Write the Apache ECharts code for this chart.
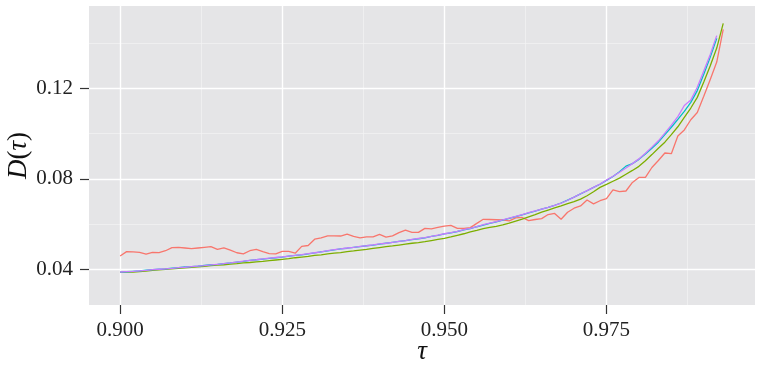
<!DOCTYPE html>
<html><head><meta charset="utf-8">
<script src="https://cdn.jsdelivr.net/npm/echarts@6/dist/echarts.min.js"></script>
<style>html,body{margin:0;padding:0;background:#fff}#c{width:757px;height:365px}</style>
</head><body><div id="c"></div>
<script>
const tau = [0.900,0.901,0.902,0.903,0.904,0.905,0.906,0.907,0.908,0.909,
0.910,0.911,0.912,0.913,0.914,0.915,0.916,0.917,0.918,0.919,
0.920,0.921,0.922,0.923,0.924,0.925,0.926,0.927,0.928,0.929,
0.930,0.931,0.932,0.933,0.934,0.935,0.936,0.937,0.938,0.939,
0.940,0.941,0.942,0.943,0.944,0.945,0.946,0.947,0.948,0.949,
0.950,0.951,0.952,0.953,0.954,0.955,0.956,0.957,0.958,0.959,
0.960,0.961,0.962,0.963,0.964,0.965,0.966,0.967,0.968,0.969,
0.970,0.971,0.972,0.973,0.974,0.975,0.976,0.977,0.978,0.979,
0.980,0.981,0.982,0.983,0.984,0.985,0.986,0.987,0.988,0.989,
0.990,0.991,0.992,0.993];

const seriesRed = [0.0459,0.0478,0.0477,0.0475,0.0467,0.0475,0.0474,0.0482,0.0496,0.0497,
0.0494,0.0491,0.0494,0.0497,0.0500,0.0488,0.0495,0.0485,0.0473,0.0468,
0.0482,0.0488,0.0478,0.0469,0.0468,0.0479,0.0479,0.0471,0.0501,0.0505,
0.0533,0.0539,0.0548,0.0548,0.0547,0.0555,0.0545,0.0539,0.0543,0.0543,
0.0554,0.0542,0.0548,0.0562,0.0573,0.0563,0.0563,0.0581,0.0579,0.0585,
0.0591,0.0594,0.0581,0.0581,0.0584,0.0603,0.0621,0.0620,0.0619,0.0618,
0.0614,0.0627,0.0629,0.0615,0.0620,0.0624,0.0642,0.0647,0.0621,0.0652,
0.0670,0.0680,0.0706,0.0689,0.0703,0.0712,0.0751,0.0743,0.0746,0.0784,
0.0806,0.0806,0.0850,0.0881,0.0914,0.0911,0.0989,0.1016,0.1061,0.1093,
0.1165,0.1239,0.1316,0.1461];

const seriesGreen = [0.0386,0.0387,0.0388,0.0390,0.0392,0.0395,0.0397,0.0400,0.0402,0.0404,
0.0406,0.0409,0.0411,0.0413,0.0416,0.0418,0.0420,0.0423,0.0425,0.0428,
0.0430,0.0433,0.0435,0.0438,0.0441,0.0444,0.0447,0.0451,0.0454,0.0457,
0.0461,0.0464,0.0468,0.0471,0.0474,0.0478,0.0481,0.0485,0.0488,0.0492,
0.0496,0.0500,0.0503,0.0507,0.0511,0.0515,0.0518,0.0522,0.0527,0.0532,
0.0537,0.0543,0.0550,0.0557,0.0565,0.0572,0.0580,0.0585,0.0590,0.0596,
0.0604,0.0613,0.0622,0.0632,0.0642,0.0653,0.0662,0.0671,0.0680,0.0690,
0.0699,0.0710,0.0725,0.0743,0.0762,0.0775,0.0789,0.0803,0.0820,0.0837,
0.0855,0.0880,0.0907,0.0935,0.0962,0.0995,0.1030,0.1072,0.1113,0.1160,
0.1228,0.1300,0.1378,0.1487];

const seriesTeal = [0.0387,0.0389,0.0391,0.0393,0.0396,0.0398,0.0400,0.0402,0.0405,0.0407,
0.0410,0.0412,0.0414,0.0417,0.0420,0.0422,0.0425,0.0428,0.0432,0.0435,
0.0439,0.0442,0.0445,0.0448,0.0451,0.0454,0.0458,0.0461,0.0464,0.0468,
0.0472,0.0477,0.0481,0.0486,0.0490,0.0493,0.0497,0.0500,0.0504,0.0507,
0.0511,0.0515,0.0519,0.0523,0.0527,0.0531,0.0535,0.0539,0.0545,0.0550,
0.0556,0.0561,0.0567,0.0574,0.0580,0.0588,0.0595,0.0603,0.0610,0.0617,
0.0625,0.0633,0.0641,0.0649,0.0657,0.0666,0.0674,0.0683,0.0693,0.0706,
0.0719,0.0733,0.0747,0.0762,0.0776,0.0793,0.0810,0.0831,0.0856,0.0867,
0.0886,0.0910,0.0935,0.0962,0.0995,0.1028,0.1063,0.1098,0.1138,0.1190,
0.1262,0.1338,0.1421];

const seriesPurple = [0.0388,0.0390,0.0391,0.0393,0.0395,0.0398,0.0400,0.0402,0.0404,0.0407,
0.0409,0.0412,0.0414,0.0416,0.0419,0.0422,0.0425,0.0428,0.0432,0.0436,
0.0439,0.0442,0.0446,0.0449,0.0452,0.0455,0.0458,0.0461,0.0465,0.0469,
0.0473,0.0477,0.0482,0.0487,0.0490,0.0494,0.0497,0.0501,0.0504,0.0508,
0.0512,0.0515,0.0519,0.0523,0.0527,0.0532,0.0536,0.0540,0.0545,0.0551,
0.0557,0.0562,0.0568,0.0575,0.0581,0.0589,0.0597,0.0604,0.0611,0.0618,
0.0626,0.0634,0.0642,0.0650,0.0658,0.0666,0.0674,0.0683,0.0692,0.0705,
0.0719,0.0734,0.0748,0.0762,0.0777,0.0794,0.0811,0.0829,0.0848,0.0867,
0.0888,0.0913,0.0940,0.0968,0.1002,0.1037,0.1075,0.1124,0.1148,0.1205,
0.1277,0.1350,0.1433];

const xTicks = [0.900, 0.925, 0.950, 0.975];
const xMinor = [0.9125, 0.9375, 0.9625, 0.9875];
const yTicks = [0.04, 0.08, 0.12];
const yMinor = [0.06, 0.10, 0.14];
const colors = ['#F8766D', '#7CAE00', '#00BFC4', '#C77CFF'];

const FONT = 'Liberation Serif';
function pairs(vals) { return vals.map((v, i) => [tau[i], v]); }

const gridLines = [];
xMinor.forEach(v => gridLines.push({xAxis: v, lineStyle: {color: '#F4F4F4', width: 0.7, type: 'solid'}}));
yMinor.forEach(v => gridLines.push({yAxis: v, lineStyle: {color: '#F4F4F4', width: 0.7, type: 'solid'}}));
xTicks.forEach(v => gridLines.push({xAxis: v, lineStyle: {color: '#FFFFFF', width: 1.4, type: 'solid'}}));
yTicks.forEach(v => gridLines.push({yAxis: v, lineStyle: {color: '#FFFFFF', width: 1.4, type: 'solid'}}));

const chart = echarts.init(document.getElementById('c'), null, {renderer: 'canvas'});
const lineSeries = [seriesRed, seriesGreen, seriesTeal, seriesPurple].map((vals, k) => ({
  type: 'line', data: pairs(vals), showSymbol: false, symbol: 'none', z: 5 + k,
  lineStyle: {color: colors[k], width: 1.3}, itemStyle: {color: colors[k]}
}));

chart.setOption({
  animation: false,
  grid: {left: 89, top: 6, width: 666, height: 299, show: true, backgroundColor: '#E5E5E7', borderWidth: 0,
         containLabel: false, outerBoundsMode: 'none'},
  xAxis: {
    type: 'value', min: 0.8952, max: 0.9979,
    axisLine: {show: false},
    axisTick: {show: true, customValues: xTicks, length: 9, lineStyle: {color: '#333', width: 1.2}},
    axisLabel: {customValues: xTicks, formatter: v => v.toFixed(3), fontFamily: FONT, fontSize: 21, color: '#222', margin: 15},
    splitLine: {show: false},
    name: 'τ', nameLocation: 'middle', nameGap: 33, nameMoveOverlap: false,
    nameTextStyle: {fontFamily: FONT, fontSize: 27, fontStyle: 'italic', color: '#111'}
  },
  yAxis: {
    type: 'value', min: 0.0242, max: 0.1564,
    axisLine: {show: false},
    axisTick: {show: true, customValues: yTicks, length: 9, lineStyle: {color: '#333', width: 1.2}},
    axisLabel: {customValues: yTicks, formatter: v => v.toFixed(2), fontFamily: FONT, fontSize: 21, color: '#222', margin: 16},
    splitLine: {show: false},
    name: '{i|D}{n|(}{i|τ}{n|)}', nameLocation: 'middle', nameGap: 57, nameRotate: 90, nameMoveOverlap: false,
    nameTextStyle: {fontFamily: FONT, fontSize: 27, color: '#111',
      rich: {i: {fontFamily: FONT, fontSize: 27, fontStyle: 'italic', color: '#111'},
             n: {fontFamily: FONT, fontSize: 27, color: '#111'}}}
  },
  series: [{
    type: 'line', data: [[0.9, 0.04]], showSymbol: false, symbol: 'none', z: 1,
    lineStyle: {opacity: 0}, silent: true,
    markLine: {silent: true, precision: 6, symbol: ['none', 'none'], label: {show: false}, animation: false, data: gridLines}
  }].concat(lineSeries)
});
</script>
</body></html>
